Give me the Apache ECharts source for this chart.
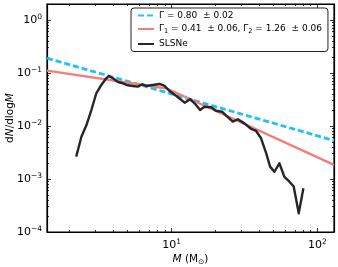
<!DOCTYPE html>
<html><head><meta charset="utf-8">
<script src="https://cdn.jsdelivr.net/npm/echarts@6/dist/echarts.min.js"></script>
<style>html,body{margin:0;padding:0;background:#fff}#c{width:338px;height:267px}</style>
</head><body><div id="c"></div>
<script>
// Single power-law fit (Γ = 0.80): [M, dN/dlogM]
var fitSingle = [[1.4, 0.19], [130, 0.0053]];
// Broken power-law fit (Γ1 = 0.41, Γ2 = 1.26)
var fitBroken = [[1.4, 0.111], [9.3, 0.051], [130, 0.00185]];
// SLSNe distribution
var slsneM = [2.22, 2.41, 2.61, 2.82, 3.05, 3.30, 3.57, 3.72, 3.96, 4.29, 4.64, 5.02, 5.43, 5.88, 6.30, 6.71, 7.45, 8.28, 8.96, 9.69, 10.8, 12.3, 13.4, 14.4, 15.7, 16.8, 18.7, 20.2, 22.2, 23.9, 26.3, 28.5, 31.6, 35.2, 38.0, 41.1, 44.6, 47.4, 50.7, 54.9, 59.4, 64.3, 68.8, 74.5, 80.2];
var slsneY = [0.00264, 0.00628, 0.0104, 0.0200, 0.0414, 0.0594, 0.0794, 0.0878, 0.0794, 0.0676, 0.0639, 0.0586, 0.0569, 0.0552, 0.0612, 0.0569, 0.0594, 0.0620, 0.0569, 0.0457, 0.0368, 0.0275, 0.0319, 0.0268, 0.0200, 0.0231, 0.0225, 0.0194, 0.0186, 0.0154, 0.0121, 0.0134, 0.0112, 0.00878, 0.00805, 0.00586, 0.00305, 0.00171, 0.00137, 0.00198, 0.00110, 0.00089, 0.00072, 0.000225, 0.00067];
// axis ticks
var xMajor = [10, 100];
var xMinor = [2, 3, 4, 5, 6, 7, 8, 9, 20, 30, 40, 50, 60, 70, 80, 90];
var yMajor = [1e-4, 1e-3, 1e-2, 1e-1, 1];
var yMinor = [];
[1e-4, 1e-3, 1e-2, 1e-1, 1].forEach(function (d) { for (var k = 2; k <= 9; k++) { if (d * k <= 2) yMinor.push(d * k); } });

var seriesNames = ['single', 'broken', 'SLSNe'];
var legendText = {
  single: '{t|Γ = 0.80  ± 0.02}',
  broken: '{t|Γ}{sub|1}{t| = 0.41  ± 0.06, Γ}{sub|2}{t| = 1.26  ± 0.06}',
  SLSNe: '{t|SLSNe}'
};

var FONT = 'DejaVu Sans';
function expLabel(v) {
  var e = Math.round(Math.log10(v));
  var s = e < 0 ? '\u2212' + (-e) : '' + e;
  return '{b|10}{s|' + s + '}';
}
var labelRich = {
  b: { fontSize: 11, fontFamily: FONT, color: '#000' },
  s: { fontSize: 7.5, fontFamily: FONT, color: '#000', padding: [0, 0, 6, 0] }
};
var XMIN = 1.4, XMAX = 130, YMIN = 1e-4, YMAX = 2;

function xAx(pos, major, withLabel) {
  return {
    type: 'log', logBase: 10, min: XMIN, max: XMAX, position: pos,
    axisLine: { show: major, lineStyle: { color: '#000', width: 1.2 } },
    axisTick: { show: true, inside: true, length: major ? 4 : 2, customValues: major ? xMajor : xMinor, lineStyle: { color: '#000', width: 0.8 } },
    axisLabel: withLabel ? { show: true, customValues: xMajor, formatter: expLabel, rich: labelRich, margin: 6 } : { show: false },
    splitLine: { show: false }, minorTick: { show: false },
    name: withLabel ? '{i|M}{n| (M}{sub|\u2299}{n|)}' : '',
    nameLocation: 'middle', nameGap: 20, nameMoveOverlap: false,
    nameTextStyle: { rich: {
      i: { fontSize: 10.5, fontFamily: FONT, fontStyle: 'italic', color: '#000' },
      n: { fontSize: 10.5, fontFamily: FONT, color: '#000' },
      sub: { fontSize: 7.5, fontFamily: FONT, color: '#000', padding: [6, 0, 0, 0] }
    } }
  };
}
function yAx(pos, major, withLabel) {
  return {
    type: 'log', logBase: 10, min: YMIN, max: YMAX, position: pos,
    axisLine: { show: major, lineStyle: { color: '#000', width: 1.2 } },
    axisTick: { show: true, inside: true, length: major ? 4 : 2, customValues: major ? yMajor : yMinor, lineStyle: { color: '#000', width: 0.8 } },
    axisLabel: withLabel ? { show: true, customValues: yMajor, formatter: expLabel, rich: labelRich, margin: 5 } : { show: false },
    splitLine: { show: false }, minorTick: { show: false },
    name: withLabel ? '{n|d}{i|N}{n|/dlog}{i|M}' : '',
    nameLocation: 'middle', nameGap: 31, nameRotate: 90, nameMoveOverlap: false,
    nameTextStyle: { rich: {
      i: { fontSize: 10.5, fontFamily: FONT, fontStyle: 'italic', color: '#000' },
      n: { fontSize: 10.5, fontFamily: FONT, color: '#000' }
    } }
  };
}

var chart = echarts.init(document.getElementById('c'), null, { renderer: 'canvas' });
chart.setOption({
  animation: false,
  backgroundColor: '#fff',
  grid: { left: 47, right: 4, top: 4, bottom: 35, show: true, borderColor: '#000', borderWidth: 1.2, containLabel: false, outerBoundsMode: 'none' },
  xAxis: [xAx('bottom', true, true), xAx('bottom', false, false), xAx('top', true, false), xAx('top', false, false)],
  yAxis: [yAx('left', true, true), yAx('left', false, false), yAx('right', true, false), yAx('right', false, false)],
  legend: {
    orient: 'vertical', left: 131, top: 8,
    padding: [3, 6, 3, 6], itemWidth: 16, itemHeight: 10, itemGap: 4.5,
    backgroundColor: '#fff', borderColor: '#222', borderWidth: 1, borderRadius: 3,
    itemStyle: { opacity: 0 },
    data: seriesNames,
    formatter: function (n) { return legendText[n]; },
    textStyle: { rich: {
      t: { fontSize: 9, fontFamily: FONT, color: '#000' },
      sub: { fontSize: 6.5, fontFamily: FONT, color: '#000', padding: [5, 0, 0, 0] }
    } }
  },
  series: [
    { name: 'single', type: 'line', symbol: 'none', data: fitSingle, xAxisIndex: 0, yAxisIndex: 0,
      lineStyle: { color: '#1cc3f5', width: 2.8, type: [6, 3] }, itemStyle: { color: '#1cc3f5' }, z: 2 },
    { name: 'broken', type: 'line', symbol: 'none', data: fitBroken, xAxisIndex: 0, yAxisIndex: 0,
      lineStyle: { color: '#f07f7c', width: 2.4 }, itemStyle: { color: '#f07f7c' }, z: 3 },
    { name: 'SLSNe', type: 'line', symbol: 'none', data: slsneM.map(function (m, i) { return [m, slsneY[i]]; }), xAxisIndex: 0, yAxisIndex: 0,
      lineStyle: { color: '#262626', width: 2.4, join: 'round' }, itemStyle: { color: '#262626' }, z: 4 }
  ]
});
</script></body></html>
